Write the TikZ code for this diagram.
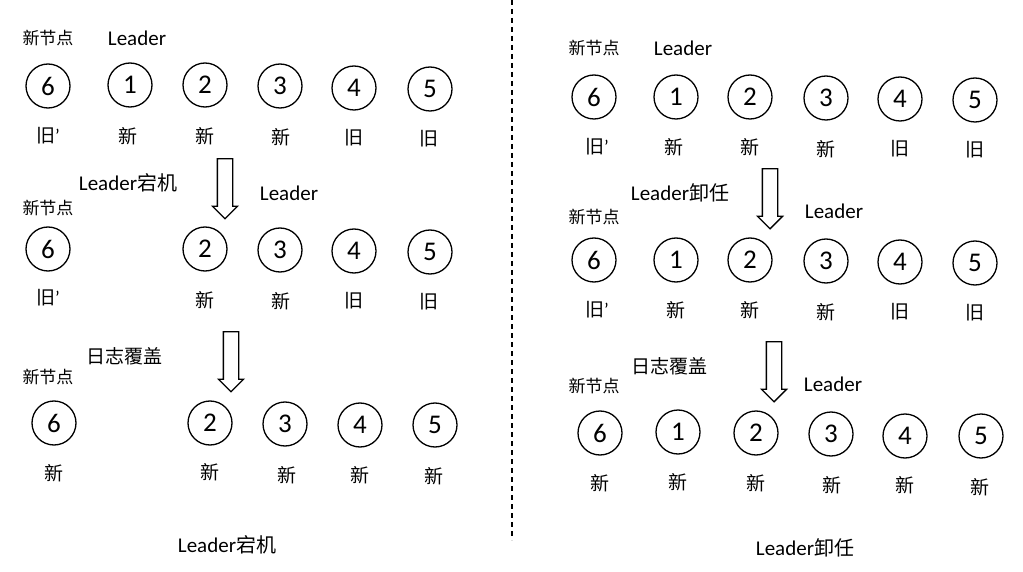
\documentclass[tikz,border=0pt]{standalone}
\usepackage{fontspec}
\setmainfont{Carlito}
\newfontfamily\cjk{Noto Sans CJK SC}
\usetikzlibrary{shapes.arrows}
\tikzset{
  nd/.style={draw,circle,minimum size=44pt,inner sep=0pt,line width=1.3pt,
             font=\fontsize{27}{29}\selectfont},            % log node
  st/.style={font=\cjk\fontsize{19}{21}\selectfont},         % old/new state
  tag/.style={font=\cjk\fontsize{17}{19}\selectfont},        % new node tag
  ldr/.style={font=\fontsize{21}{23}\selectfont},            % leader tag
  dn/.style={single arrow,draw,line width=1.3pt,shape border rotate=270,
             minimum height=60pt,inner xsep=7pt,inner ysep=0pt,
             single arrow head extend=5pt,single arrow tip angle=90}, % step arrow
  sep/.style={line width=1.3pt,dash pattern=on 5pt off 4pt},
}
\begin{document}
\begin{tikzpicture}[x=1pt,y=-1pt]
  \useasboundingbox (0,0) rectangle (1023,572);
  % left: leader crashes
  \node[tag] (aNew) at (48,38) {新节点};
  \node[ldr] (aLdr) at (137,38) {Leader};
  \node[nd] (a6) at (48,86) {6};  \node[st] (a6s) at (48,136) {旧{\rmfamily'}};
  \node[nd] (a1) at (130,85) {1}; \node[st] (a1s) at (128,136) {新};
  \node[nd] (a2) at (205,85) {2}; \node[st] (a2s) at (205,136) {新};
  \node[nd] (a3) at (280,86) {3}; \node[st] (a3s) at (281,137) {新};
  \node[nd] (a4) at (354,88) {4}; \node[st] (a4s) at (354,138) {旧};
  \node[nd] (a5) at (430,89) {5}; \node[st] (a5s) at (429,139) {旧};
  \node[dn] (ab) at (225,185) {};
  \node[ldr] (abTxt) at (128,183) {Leader{\cjk\fontsize{20}{22}\selectfont 宕机}};
  \node[ldr] (bLdr) at (289,193) {Leader};
  \node[tag] (bNew) at (48,208) {新节点};
  \node[nd] (b6) at (48,249) {6};  \node[st] (b6s) at (48,298) {旧{\rmfamily'}};
  \node[nd] (b2) at (205,249) {2}; \node[st] (b2s) at (205,300) {新};
  \node[nd] (b3) at (280,250) {3}; \node[st] (b3s) at (281,301) {新};
  \node[nd] (b4) at (354,251) {4}; \node[st] (b4s) at (354,301) {旧};
  \node[nd] (b5) at (430,252) {5}; \node[st] (b5s) at (429,302) {旧};
  \node[dn] (bc) at (231,358) {};
  \node[ldr,font=\cjk\fontsize{19}{21}\selectfont] (bcTxt) at (124,356) {日志覆盖};
  \node[tag] (cNew) at (48,377) {新节点};
  \node[nd] (c6) at (54,423) {6};  \node[st] (c6s) at (54,473) {新};
  \node[nd] (c2) at (210,423) {2}; \node[st] (c2s) at (210,472) {新};
  \node[nd] (c3) at (285,424) {3}; \node[st] (c3s) at (287,475) {新};
  \node[nd] (c4) at (360,425) {4}; \node[st] (c4s) at (360,475) {新};
  \node[nd] (c5) at (435,425) {5}; \node[st] (c5s) at (434,476) {新};
  \node[ldr] (capL) at (227,545) {Leader{\cjk\fontsize{20}{22}\selectfont 宕机}};
  % divider
  \coordinate (sepTop) at (512,0);
  \coordinate (sepBot) at (512,540);
  \draw[sep] (sepTop) -- (sepBot);
  % right: leader steps down
  \node[tag] (dNew) at (594,48) {新节点};
  \node[ldr] (dLdr) at (683,48) {Leader};
  \node[nd] (d6) at (594,97) {6};  \node[st] (d6s) at (597,147) {旧{\rmfamily'}};
  \node[nd] (d1) at (676,97) {1};  \node[st] (d1s) at (674,147) {新};
  \node[nd] (d2) at (750,97) {2};  \node[st] (d2s) at (750,147) {新};
  \node[nd] (d3) at (826,98) {3};  \node[st] (d3s) at (826,149) {新};
  \node[nd] (d4) at (900,99) {4};  \node[st] (d4s) at (900,149) {旧};
  \node[nd] (d5) at (975,100) {5}; \node[st] (d5s) at (975,150) {旧};
  \node[dn] (de) at (770,195) {};
  \node[ldr] (deTxt) at (680,193) {Leader{\cjk\fontsize{20}{22}\selectfont 卸任}};
  \node[ldr] (eLdr) at (834,211) {Leader};
  \node[tag] (eNew) at (594,217) {新节点};
  \node[nd] (e6) at (594,260) {6};  \node[st] (e6s) at (597,310) {旧{\rmfamily'}};
  \node[nd] (e1) at (676,260) {1};  \node[st] (e1s) at (676,310) {新};
  \node[nd] (e2) at (750,260) {2};  \node[st] (e2s) at (750,310) {新};
  \node[nd] (e3) at (826,261) {3};  \node[st] (e3s) at (826,312) {新};
  \node[nd] (e4) at (900,262) {4};  \node[st] (e4s) at (900,312) {旧};
  \node[nd] (e5) at (975,263) {5};  \node[st] (e5s) at (975,313) {旧};
  \node[dn] (ef) at (774,368) {};
  \node[ldr,font=\cjk\fontsize{19}{21}\selectfont] (efTxt) at (669,366) {日志覆盖};
  \node[ldr] (fLdr) at (833,384) {Leader};
  \node[tag] (fNew) at (594,386) {新节点};
  \node[nd] (f6) at (600,433) {6};  \node[st] (f6s) at (600,483) {新};
  \node[nd] (f1) at (678,432) {1};  \node[st] (f1s) at (678,482) {新};
  \node[nd] (f2) at (756,433) {2};  \node[st] (f2s) at (756,483) {新};
  \node[nd] (f3) at (831,434) {3};  \node[st] (f3s) at (832,485) {新};
  \node[nd] (f4) at (905,436) {4};  \node[st] (f4s) at (905,485) {新};
  \node[nd] (f5) at (981,436) {5};  \node[st] (f5s) at (980,487) {新};
  \node[ldr] (capR) at (805,548) {Leader{\cjk\fontsize{20}{22}\selectfont 卸任}};
\end{tikzpicture}
\end{document}
